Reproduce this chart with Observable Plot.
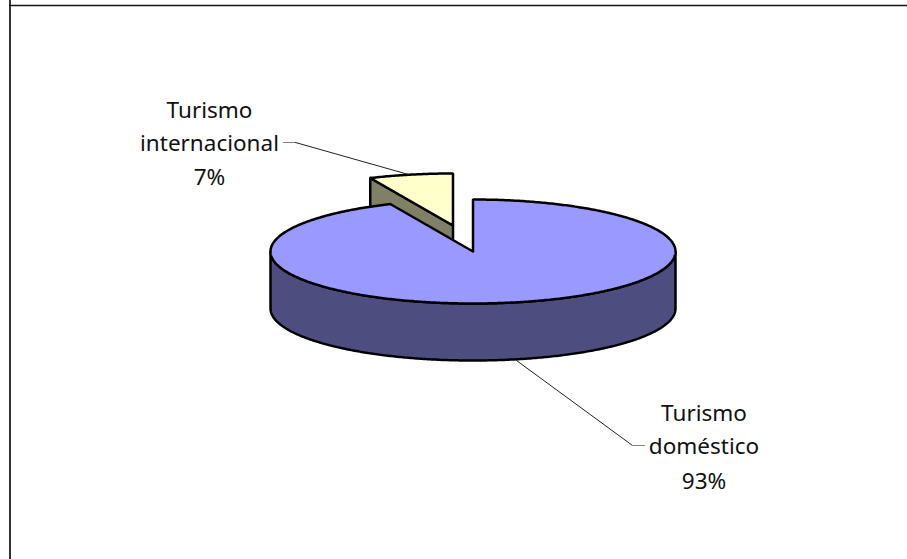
<!DOCTYPE html>
<html>
<head>
<meta charset="utf-8">
<style>html,body{margin:0;padding:0;background:#fff}svg{display:block}</style>
<script src="https://cdn.jsdelivr.net/npm/d3@7"></script>
<script src="https://cdn.jsdelivr.net/npm/@observablehq/plot@0.6"></script>
</head>
<body>
<script>
const categories = ["Turismo doméstico", "Turismo internacional"];
const shares = [93.3, 6.7];
const labelLines = [["Turismo", "doméstico", "93%"], ["Turismo", "internacional", "7%"]];
const topColors = ["#9999FF", "#FFFFCC"];
const wallColors = ["#4D4D80", "#808066"];

const W = 907, H = 559;
const pie = {cx: 472.5, cy: 251, rx: 202.5, ry: 52, depth: 57};
const explode = {dx: -20, dy: -26};
const total = d3.sum(shares);
const toAngle = s => s / total * 2 * Math.PI;

const rim = (a, c) => ({x: c.x + pie.rx * Math.sin(a), y: c.y - pie.ry * Math.cos(a)});
const arc = (a0, a1, c) => {
  const n = Math.max(2, Math.ceil(Math.abs(a1 - a0) / 0.01));
  return d3.range(n + 1).map(i => rim(a0 + (a1 - a0) * i / n, c));
};
const drop = p => ({x: p.x, y: p.y + pie.depth});
const closed = pts => [...pts, pts[0]];

const mainCentre = {x: pie.cx, y: pie.cy};
const sliceCentre = {x: pie.cx + explode.dx, y: pie.cy + explode.dy};
const mainEnd = toAngle(shares[0]);

// exploded small slice spans mainEnd .. 2π
const sliceTop = closed([sliceCentre, ...arc(mainEnd, 2 * Math.PI, sliceCentre)]);
const sliceEdge = [rim(mainEnd, sliceCentre), sliceCentre];
const sliceWall = closed([...sliceEdge, drop(sliceCentre), drop(rim(mainEnd, sliceCentre))]);
const mainTop = closed([mainCentre, ...arc(0, mainEnd, mainCentre)]);
const front = arc(Math.PI / 2, 3 * Math.PI / 2, mainCentre);
const mainWall = closed([...front, ...front.map(drop).reverse()]);

const face = (pts, fill) => Plot.line(pts, {x: "x", y: "y", fill, stroke: "#000", strokeWidth: 2.5, strokeLinejoin: "miter", curve: "linear"});
const leader = (pts, stroke) => Plot.line(pts, {x: "x", y: "y", stroke, strokeWidth: 1, curve: "linear"});

const labelAnchors = [{x: 703.5, ys: [413, 446, 481]}, {x: 209, ys: [110, 143, 177]}];
const labelRows = labelLines.flatMap((lines, i) => lines.map((t, j) => ({t, x: labelAnchors[i].x, y: labelAnchors[i].ys[j]})));

const chart = Plot.plot({
  width: W, height: H,
  margin: 0,
  x: {domain: [0, W], range: [0, W], axis: null},
  y: {domain: [0, H], range: [0, H], axis: null},
  marks: [
    Plot.ruleX([9.5], {stroke: "#333", strokeWidth: 2}),
    Plot.ruleY([5], {x1: 9, x2: W, stroke: "#111", strokeWidth: 1.5}),
    face(sliceWall, wallColors[1]),
    face(sliceTop, topColors[1]),
    face(mainWall, wallColors[0]),
    face(mainTop, topColors[0]),
    leader([{x: 283, y: 142}, {x: 295, y: 142}], "#808080"),
    leader([{x: 295, y: 142}, {x: 408, y: 174}], "#222"),
    leader([{x: 516, y: 360}, {x: 632, y: 445}], "#222"),
    leader([{x: 632, y: 445}, {x: 644, y: 445}], "#808080"),
    Plot.text(labelRows, {x: "x", y: "y", text: "t", fontFamily: "Noto Sans", fontSize: 22.5, fill: "#111"})
  ]
});
document.body.append(chart);
</script>
</body>
</html>
